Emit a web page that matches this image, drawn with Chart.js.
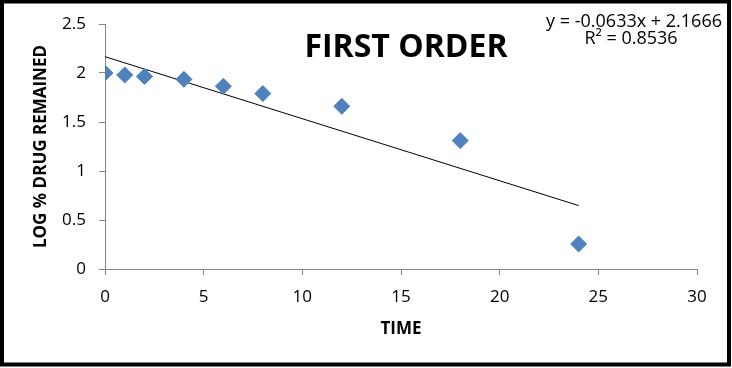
<!DOCTYPE html>
<html>
<head>
<meta charset="utf-8">
<script src="https://cdn.jsdelivr.net/npm/chart.js@4.4.1/dist/chart.umd.min.js"></script>
<style>
  html, body { margin: 0; padding: 0; background: #fff; }
  #wrap { position: relative; width: 732px; height: 368px; }
</style>
</head>
<body>
<div id="wrap"><canvas id="myChart" width="732" height="368"></canvas></div>
<script>
// dades llegides del gràfic
const timeHours = [0, 1, 2, 4, 6, 8, 12, 18, 24];
const logDrugRemained = [2.0, 1.98, 1.965, 1.935, 1.865, 1.79, 1.66, 1.31, 0.255];

// línia de tendència (extrems)
const trendX = [0, 24];
const trendY = [2.1666, 0.6474];

const xTicks = [0, 5, 10, 15, 20, 25, 30];
const yTicks = [0, 0.5, 1, 1.5, 2, 2.5];

const titleText = 'FIRST ORDER';
const equationText = 'y = -0.0633x + 2.1666';
const r2Text = 'R\u00B2 = 0.8536';
const xTitle = 'TIME';
const yTitle = 'LOG % DRUG REMAINED';

const FONT = '"Open Sans", "Liberation Sans", sans-serif';

// textos extra + marc negre
const extras = {
    id: 'extras',
    afterDraw(chart) {
        const ctx = chart.ctx;
        ctx.save();
        ctx.fillStyle = '#000';
        ctx.textBaseline = 'alphabetic';
        ctx.font = 'bold 32px ' + FONT;
        ctx.textAlign = 'center';
        ctx.fillText(titleText, 406, 57);

        ctx.font = '18px ' + FONT;
        ctx.textAlign = 'right';
        ctx.fillText(equationText, 722, 27);
        ctx.textAlign = 'center';
        ctx.fillText(r2Text, 631, 44);

        ctx.strokeStyle = '#000';
        ctx.lineWidth = 4;
        ctx.strokeRect(2, 1.5, 727, 363);
        ctx.restore();
    }
};

const points = timeHours.map((t, i) => ({ x: t, y: logDrugRemained[i] }));
const trend = trendX.map((t, i) => ({ x: t, y: trendY[i] }));

const ctx = document.getElementById('myChart').getContext('2d');
const chart = new Chart(ctx, {
    type: 'scatter',
    data: {
        datasets: [{
            label: 'log % drug',
            data: points,
            pointStyle: 'rectRot',
            pointRadius: 8,
            backgroundColor: '#4F81BD',
            borderColor: '#4F81BD',
            borderWidth: 1,
            order: 1
        }, {
            label: 'trend',
            data: trend,
            showLine: true,
            pointRadius: 0,
            borderColor: '#000',
            borderWidth: 1,
            order: 2
        }]
    },
    options: {
        responsive: false,
        animation: false,
        layout: { padding: { top: 24, right: 35, left: 0, bottom: 0 } },
        plugins: {
            legend: { display: false },
            tooltip: { enabled: false }
        },
        scales: {
            x: {
                type: 'linear',
                min: 0,
                max: 30,
                afterFit: (s) => { s.height = 99; },
                afterBuildTicks: (s) => { s.ticks = xTicks.map(v => ({ value: v })); },
                ticks: { color: '#000', padding: 12, font: { family: FONT, size: 17 } },
                grid: { drawOnChartArea: false, tickLength: 6, color: '#868686' },
                border: { color: '#868686', width: 1 },
                title: {
                    display: true, text: xTitle, color: '#000',
                    font: { family: FONT, size: 17, weight: 'bold' },
                    padding: { top: 0, bottom: 29 }
                }
            },
            y: {
                type: 'linear',
                min: 0,
                max: 2.5,
                afterFit: (s) => { s.width = 105; },
                afterBuildTicks: (s) => { s.ticks = yTicks.map(v => ({ value: v })); },
                ticks: {
                    color: '#000', padding: 13, font: { family: FONT, size: 17 },
                    callback: (v) => String(v)
                },
                grid: { drawOnChartArea: false, tickLength: 6, color: '#868686' },
                border: { color: '#868686', width: 1 },
                title: {
                    display: true, text: yTitle, color: '#000',
                    font: { family: FONT, size: 17, weight: 'bold' },
                    padding: { top: 31, bottom: 0 }
                }
            }
        }
    },
    plugins: [extras]
});
</script>
</body>
</html>
